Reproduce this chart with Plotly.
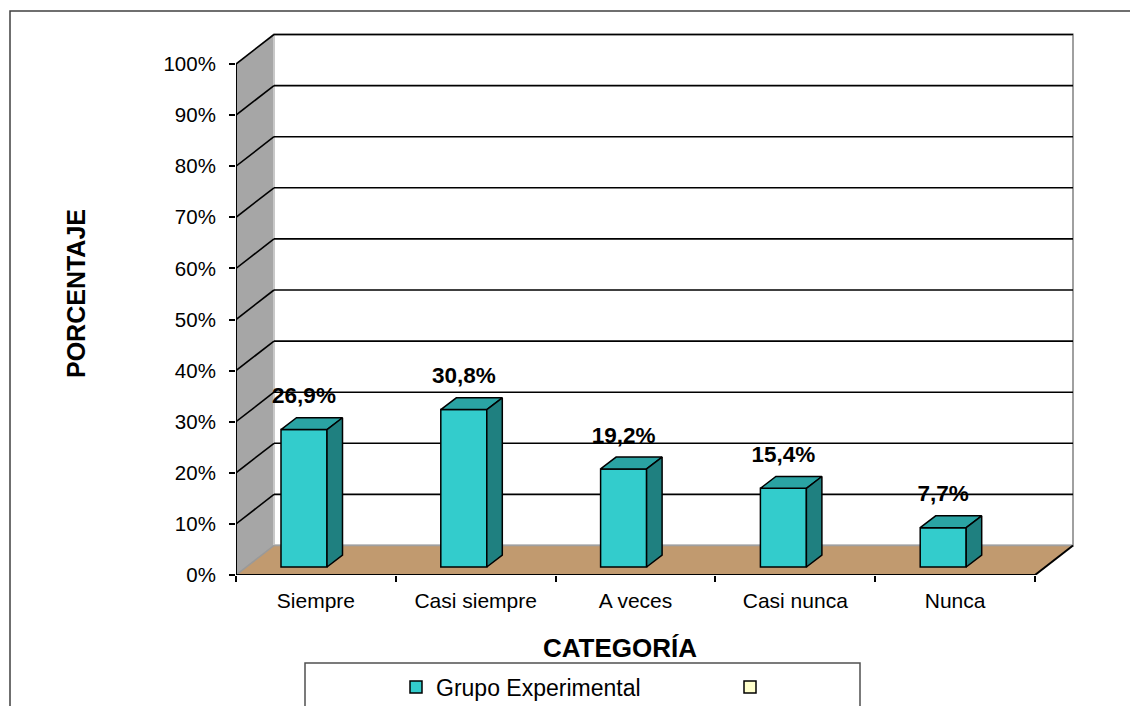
import plotly.graph_objects as go

# ---------------- data ----------------
categories = ["Siempre", "Casi siempre", "A veces", "Casi nunca", "Nunca"]
values = [26.9, 30.8, 19.2, 15.4, 7.7]
y_ticks = [0, 10, 20, 30, 40, 50, 60, 70, 80, 90, 100]
y_tick_labels = [f"{t}%" for t in y_ticks]
series_name = "Grupo Experimental"
x_title = "CATEGORÍA"
y_title = "PORCENTAJE"

# ---------------- style / geometry ----------------
W, H = 1138, 706
OFF = 8                    # page body margin in the browser
ORIG_X, ORIG_Y = 236, 575  # on-screen origin in px
ML = ORIG_X - OFF
MB = H - (ORIG_Y - OFF)
PX_X = 159.8               # px per category
PX_Y = 5.11                # px per percent
DX = 38 / PX_X             # wall depth (x)
DY = 29.5 / PX_Y           # wall depth (y)
BAR_OFF = (281 - 236) / PX_X - 0.5
BAR_W = 46 / PX_X
BAR_BASE = 8 / PX_Y
BDX = 15.5 / PX_X
BDY = 11.8 / PX_Y
FONT = "Liberation Sans, Arial, sans-serif"
C_FRONT = "#33CCCC"
C_TOP = "#2AA3A3"
C_SIDE = "#1F8080"
C_FLOOR = "#C19A6F"
C_SIDEWALL = "#A6A6A6"

n = len(categories)
x0, x1 = -0.5, n - 0.5
ymax = max(y_ticks)
xr = [-0.5, -0.5 + (W - ML) / PX_X]
yr = [0, (H - MB) / PX_Y]

def px2paper_x(px):  # on-screen px -> paper
    return (px - OFF - ML) / (W - ML)

def px2paper_y(py):
    return ((H - MB) - (py - OFF)) / (H - MB)

shapes = []
# side wall
shapes.append(dict(type="path", xref="x", yref="y", layer="below",
                   path=f"M{x0},0 L{x0},{ymax} L{x0+DX},{ymax+DY} L{x0+DX},{DY} Z",
                   fillcolor=C_SIDEWALL, line=dict(width=0)))
# back wall
shapes.append(dict(type="rect", xref="x", yref="y", layer="below",
                   x0=x0 + DX, x1=x1 + DX, y0=DY, y1=ymax + DY,
                   fillcolor="white", line=dict(color="#A0A0A0", width=2)))
# side wall corner + top edge (light gray)
shapes.append(dict(type="line", xref="x", yref="y", layer="below",
                   x0=x0 + DX, x1=x0 + DX, y0=DY, y1=ymax + DY,
                   line=dict(color="#C8C8C8", width=2)))
shapes.append(dict(type="line", xref="x", yref="y", layer="below",
                   x0=x0, x1=x0 + DX, y0=ymax, y1=ymax + DY,
                   line=dict(color="#C8C8C8", width=1.5)))
# gridlines
for t in y_ticks[1:]:
    shapes.append(dict(type="line", xref="x", yref="y", layer="below",
                       x0=x0 + DX, x1=x1 + DX, y0=t + DY, y1=t + DY,
                       line=dict(color="black", width=1.6)))
    shapes.append(dict(type="line", xref="x", yref="y", layer="below",
                       x0=x0, x1=x0 + DX, y0=t, y1=t + DY,
                       line=dict(color="black", width=1.6)))
# floor
shapes.append(dict(type="path", xref="x", yref="y", layer="below",
                   path=f"M{x0},0 L{x1},0 L{x1+DX},{DY} L{x0+DX},{DY} Z",
                   fillcolor=C_FLOOR, line=dict(width=0)))
shapes.append(dict(type="line", xref="x", yref="y", layer="below",
                   x0=x0 + DX, x1=x1 + DX, y0=DY, y1=DY,
                   line=dict(color="#A0A0A0", width=1.5)))
shapes.append(dict(type="line", xref="x", yref="y", layer="below",
                   x0=x0, x1=x0 + DX, y0=0, y1=DY,
                   line=dict(color="#999999", width=1.5)))
shapes.append(dict(type="line", xref="x", yref="y", layer="below",
                   x0=x0, x1=x1, y0=0, y1=0,
                   line=dict(color="black", width=2)))
shapes.append(dict(type="line", xref="x", yref="y", layer="below",
                   x0=x1, x1=x1 + DX, y0=0, y1=DY,
                   line=dict(color="black", width=2)))
# front value axis line
shapes.append(dict(type="line", xref="x", yref="y", layer="below",
                   x0=x0, x1=x0, y0=0, y1=ymax,
                   line=dict(color="black", width=2)))
# outer chart border
shapes.append(dict(type="rect", xref="paper", yref="paper", layer="below",
                   x0=px2paper_x(10), x1=px2paper_x(W + 40),
                   y0=px2paper_y(H + 40), y1=px2paper_y(11),
                   fillcolor="rgba(0,0,0,0)", line=dict(color="#404040", width=1.5)))
# legend box
shapes.append(dict(type="rect", xref="paper", yref="paper", layer="below",
                   x0=px2paper_x(305), x1=px2paper_x(860),
                   y0=px2paper_y(H + 40), y1=px2paper_y(663),
                   fillcolor="white", line=dict(color="#505050", width=1.5)))

fig = go.Figure()

bar_left = [i + BAR_OFF for i in range(n)]
bar_centers = [b + BAR_W / 2 for b in bar_left]

fig.add_trace(go.Bar(
    x=bar_centers, y=values, base=BAR_BASE, width=BAR_W, name=series_name,
    marker=dict(color=C_FRONT, line=dict(color="black", width=1.5)),
    hoverinfo="skip"))

top_x, top_y, side_x, side_y = [], [], [], []
for xl, v in zip(bar_left, values):
    top = BAR_BASE + v
    xr_ = xl + BAR_W
    top_x += [xl, xr_, xr_ + BDX, xl + BDX, xl, None]
    top_y += [top, top, top + BDY, top + BDY, top, None]
    side_x += [xr_, xr_, xr_ + BDX, xr_ + BDX, xr_, None]
    side_y += [BAR_BASE, top, top + BDY, BAR_BASE + BDY, BAR_BASE, None]

fig.add_trace(go.Scatter(x=top_x, y=top_y, mode="lines", fill="toself",
                         fillcolor=C_TOP, line=dict(color="black", width=1.5),
                         showlegend=False, hoverinfo="skip"))
fig.add_trace(go.Scatter(x=side_x, y=side_y, mode="lines", fill="toself",
                         fillcolor=C_SIDE, line=dict(color="black", width=1.5),
                         showlegend=False, hoverinfo="skip"))

labels = [f"{v:.1f}".replace(".", ",") + "%" for v in values]
fig.add_trace(go.Scatter(
    x=bar_centers, y=[BAR_BASE + v + 32 / PX_Y for v in values],
    mode="text", text=labels, textposition="middle center",
    textfont=dict(family=FONT, size=22.5, color="black", weight="bold"),
    showlegend=False, hoverinfo="skip"))

fig.add_trace(go.Bar(x=[None], y=[None], name=" ",
                     marker=dict(color="#FFFFCC", line=dict(color="black", width=1.5))))

fig.update_layout(
    width=W, height=H,
    margin=dict(l=ML, r=0, t=0, b=MB),
    paper_bgcolor="white", plot_bgcolor="white",
    barmode="overlay",
    shapes=shapes,
    xaxis=dict(range=xr, tickvals=list(range(n)), ticktext=categories,
               ticks="", showgrid=False, zeroline=False, showline=False,
               tickfont=dict(family=FONT, size=21, color="black"),
               ticklabelstandoff=11,
               minor=dict(tickvals=[x0 + k for k in range(n + 1)], ticks="outside",
                          ticklen=6, tickwidth=1.5, tickcolor="black", showgrid=False),
               fixedrange=True),
    yaxis=dict(range=yr, tickvals=y_ticks, ticktext=y_tick_labels,
               ticks="outside", ticklen=6, tickwidth=1.5, tickcolor="black",
               showgrid=False, zeroline=False, showline=False,
               tickfont=dict(family=FONT, size=20.5, color="black"),
               ticklabelstandoff=9, fixedrange=True),
    legend=dict(orientation="h", x=px2paper_x(396), y=px2paper_y(687),
                xanchor="left", yanchor="middle", bgcolor="rgba(0,0,0,0)",
                borderwidth=0, entrywidth=289, entrywidthmode="pixels",
                font=dict(family=FONT, size=23, color="black")),
    annotations=[
        dict(text=f"<b>{x_title}</b>", xref="paper", yref="paper",
             x=px2paper_x(620), y=px2paper_y(648), showarrow=False,
             xanchor="center", yanchor="middle",
             font=dict(family=FONT, size=26, color="black")),
        dict(text=f"<b>{y_title}</b>", xref="paper", yref="paper",
             x=px2paper_x(76), y=px2paper_y(294), showarrow=False, textangle=-90,
             xanchor="center", yanchor="middle",
             font=dict(family=FONT, size=25, color="black")),
    ],
    showlegend=True,
)

fig.write_html("out.html")
